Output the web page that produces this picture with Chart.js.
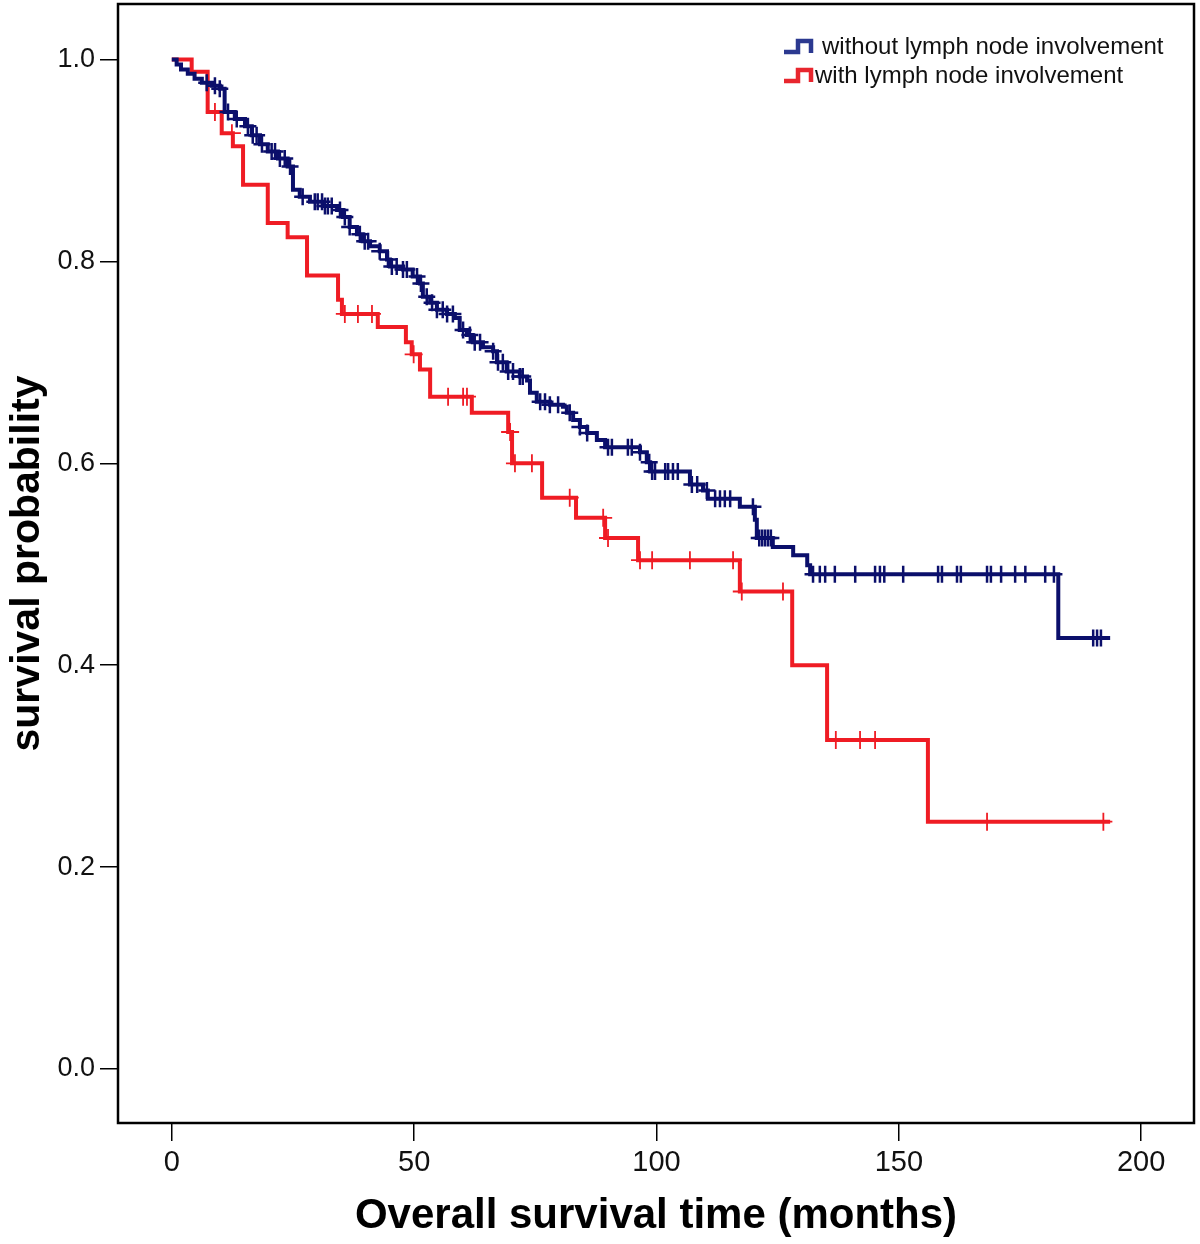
<!DOCTYPE html>
<html>
<head>
<meta charset="utf-8">
<script src="https://cdn.jsdelivr.net/npm/chart.js@4.4.0/dist/chart.umd.min.js"></script>
<style>
html,body{margin:0;padding:0;background:#fff;}
#wrap{width:1200px;height:1244px;}
</style>
</head>
<body>
<div id="wrap"><canvas id="c" width="1200" height="1244"></canvas></div>
<script>
// ---- data ----
const legendLabels = ["without lymph node involvement", "with lymph node involvement"];
const xTitle = "Overall survival time (months)";
const yTitle = "survival probability";
const xTickValues = [0, 50, 100, 150, 200];
const yTickValues = [0, 0.2, 0.4, 0.6, 0.8, 1.0];

// without lymph node involvement (Kaplan-Meier steps)
const blueTimes = [0, 1.0, 1.9, 3.3, 4.7, 6.2, 8.3, 9.9, 10.9, 13.0, 15.1, 16.5, 18.2, 19.8, 21.9, 23.9,
  25.0, 26.4, 28.5, 31.2, 34.1, 35.3, 36.7, 38.2, 39.4, 40.9, 42.9, 44.4, 45.0, 47.7, 49.7, 51.2,
  51.8, 53.3, 54.7, 56.8, 58.4, 59.4, 60.9, 62.1, 64.2, 66.3, 67.1, 69.1, 71.8, 73.3, 73.9, 75.3,
  78.0, 80.7, 81.5, 82.8, 84.2, 85.7, 87.7, 89.4, 96.6, 98.0, 98.7, 106.9, 109.6, 110.6, 117.2, 120.3,
  120.7, 124.0, 128.2, 131.1, 131.7, 182.9];
const blueSurv = [1.0, 0.995, 0.990, 0.986, 0.981, 0.977, 0.974, 0.971, 0.948, 0.941, 0.934, 0.925, 0.916, 0.909, 0.902, 0.894,
  0.871, 0.864, 0.859, 0.855, 0.851, 0.844, 0.834, 0.827, 0.820, 0.815, 0.810, 0.802, 0.795, 0.792, 0.785, 0.778,
  0.765, 0.759, 0.752, 0.748, 0.744, 0.732, 0.727, 0.720, 0.715, 0.711, 0.700, 0.691, 0.686, 0.682, 0.670, 0.661,
  0.658, 0.656, 0.650, 0.643, 0.636, 0.630, 0.623, 0.616, 0.611, 0.601, 0.592, 0.579, 0.573, 0.565, 0.557, 0.544,
  0.526, 0.517, 0.509, 0.499, 0.490, 0.427];
const blueEnd = 193.6;
const blueCensor = [7.2, 8.9, 9.9, 11.6, 13.4, 15.7, 16.7, 17.5, 18.6, 20.6, 21.3, 22.3, 23.3, 24.4, 27.0, 29.5,
  30.1, 31.0, 31.6, 32.2, 33.0, 34.7, 35.7, 36.7, 38.8, 39.8, 40.5, 42.9, 44.6, 45.4, 46.4, 47.7,
  48.5, 50.6, 51.4, 52.6, 53.7, 54.7, 55.9, 56.8, 58.0, 60.1, 61.5, 62.5, 63.6, 66.3, 67.3, 68.3,
  69.4, 70.4, 71.8, 72.4, 76.0, 77.0, 78.0, 79.7, 82.1, 84.2, 85.7, 90.0, 90.8, 94.1, 94.9, 96.6,
  98.5, 99.1, 99.7, 101.8, 102.4, 103.4, 104.4, 107.3, 108.4, 110.4, 112.1, 113.1, 114.1, 115.2,
  119.9, 121.2, 121.8, 122.4, 123.0, 123.6, 132.3, 133.7, 134.8, 136.8, 141.0, 145.1, 146.1, 147.0,
  150.9, 158.1, 158.9, 162.0, 162.8, 168.2, 169.0, 171.1, 174.0, 176.1, 180.2, 182.0, 190.1, 190.9, 191.7];

// with lymph node involvement
const redTimes = [0, 4.1, 7.4, 10.3, 12.6, 14.7, 19.8, 23.9, 27.9, 34.3, 35.1, 42.5, 48.3, 49.5, 51.2, 53.3,
  61.9, 69.4, 70.2, 76.4, 83.4, 89.4, 96.2, 117.2, 128.0, 135.2, 156.0];
const redSurv = [1.0, 0.988, 0.948, 0.927, 0.914, 0.876, 0.838, 0.824, 0.786, 0.762, 0.748, 0.735, 0.720, 0.708, 0.693, 0.666,
  0.650, 0.631, 0.600, 0.566, 0.546, 0.526, 0.504, 0.473, 0.400, 0.326, 0.245];
const redEnd = 193.6;
const redCensor = [8.9, 12.4, 35.7, 38.4, 41.3, 49.9, 57.0, 60.1, 60.9, 69.8, 70.8, 74.3, 82.1, 89.0, 90.0,
  96.6, 99.1, 106.9, 115.8, 117.6, 126.1, 137.0, 142.0, 145.1, 168.2, 192.2];

const blueColor = '#0b0f6b';
const redColor = '#ef1c24';
const FONT = "'Liberation Sans', Arial, sans-serif";

// ---- helpers ----
function stepPoints(times, surv, end) {
  const pts = times.map((t, i) => ({x: t, y: surv[i]}));
  pts.push({x: end, y: surv[surv.length - 1]});
  return pts;
}
function survAt(times, surv, t) {
  let v = surv[0];
  for (let i = 0; i < times.length; i++) { if (times[i] <= t) v = surv[i]; }
  return v;
}
function censorPoints(times, surv, cens) {
  return cens.map(t => ({x: t, y: survAt(times, surv, t)}));
}
function noPad(s) { s.paddingTop = 0; s.paddingBottom = 0; s.paddingLeft = 0; s.paddingRight = 0; }

const boxPlugin = {
  id: 'boxAndLegend',
  afterDraw(chart) {
    const {ctx, chartArea: a} = chart;
    ctx.save();
    ctx.strokeStyle = '#000';
    ctx.lineWidth = 2.5;
    ctx.strokeRect(a.left, a.top, a.right - a.left, a.bottom - a.top);
    // legend
    const items = [
      {c: '#2b3990', yb: 52, yt: 41, tx: 822, ty: 47, text: legendLabels[0]},
      {c: '#e8262e', yb: 81, yt: 70, tx: 815, ty: 76, text: legendLabels[1]}
    ];
    items.forEach(it => {
      ctx.strokeStyle = it.c;
      ctx.lineWidth = 4.5;
      ctx.lineJoin = 'miter';
      ctx.beginPath();
      ctx.moveTo(784, it.yb);
      ctx.lineTo(798, it.yb);
      ctx.lineTo(798, it.yt);
      ctx.lineTo(811, it.yt);
      ctx.lineTo(811, it.yb + 1);
      ctx.stroke();
      ctx.fillStyle = '#111';
      ctx.font = "24px " + FONT;
      ctx.textBaseline = 'middle';
      ctx.textAlign = 'left';
      ctx.fillText(it.text, it.tx, it.ty);
    });
    ctx.restore();
  }
};

new Chart(document.getElementById('c'), {
  type: 'line',
  data: {
    datasets: [
      {label: legendLabels[1], data: stepPoints(redTimes, redSurv, redEnd), borderColor: redColor,
       borderWidth: 4, stepped: 'before', pointRadius: 0, fill: false, order: 4},
      {label: legendLabels[1] + ' censored', data: censorPoints(redTimes, redSurv, redCensor), showLine: false,
       pointStyle: 'cross', pointRadius: 9, pointBorderWidth: 1.8, pointBorderColor: redColor,
       borderColor: redColor, order: 3},
      {label: legendLabels[0], data: stepPoints(blueTimes, blueSurv, blueEnd), borderColor: blueColor,
       borderWidth: 4, stepped: 'before', pointRadius: 0, fill: false, order: 2},
      {label: legendLabels[0] + ' censored', data: censorPoints(blueTimes, blueSurv, blueCensor), showLine: false,
       pointStyle: 'cross', pointRadius: 8.5, pointBorderWidth: 2.5, pointBorderColor: blueColor,
       borderColor: blueColor, order: 1}
    ]
  },
  options: {
    responsive: false,
    animation: false,
    devicePixelRatio: 1,
    layout: {autoPadding: false, padding: {top: 4, right: 6, left: 0, bottom: 0}},
    plugins: {legend: {display: false}, tooltip: {enabled: false}},
    scales: {
      x: {
        type: 'linear', min: -11.1, max: 210.9,
        afterBuildTicks: s => { s.ticks = xTickValues.map(v => ({value: v})); },
        afterFit: s => { s.height = 121; noPad(s); },
        grid: {display: true, drawOnChartArea: false, drawTicks: true, tickLength: 18, color: '#000', lineWidth: 1.5},
        border: {display: false},
        ticks: {color: '#111', font: {family: FONT, size: 29}, padding: 5, maxRotation: 0,
                callback: v => String(v)},
        title: {display: true, text: xTitle, color: '#000',
                font: {family: FONT, size: 42, weight: 'bold'}, padding: {top: 0, bottom: 2}}
      },
      y: {
        type: 'linear', min: -0.0535, max: 1.055,
        afterBuildTicks: s => { s.ticks = yTickValues.map(v => ({value: v})); },
        afterFit: s => { s.width = 118; noPad(s); },
        grid: {display: true, drawOnChartArea: false, drawTicks: true, tickLength: 18, color: '#000', lineWidth: 1.5},
        border: {display: false},
        ticks: {color: '#111', font: {family: FONT, size: 27}, padding: 5,
                callback: v => Number(v).toFixed(1)},
        title: {display: true, text: yTitle, color: '#000',
                font: {family: FONT, size: 41, weight: 'bold'}, padding: {top: 3, bottom: 0}}
      }
    }
  },
  plugins: [boxPlugin]
});
</script>
</body>
</html>
